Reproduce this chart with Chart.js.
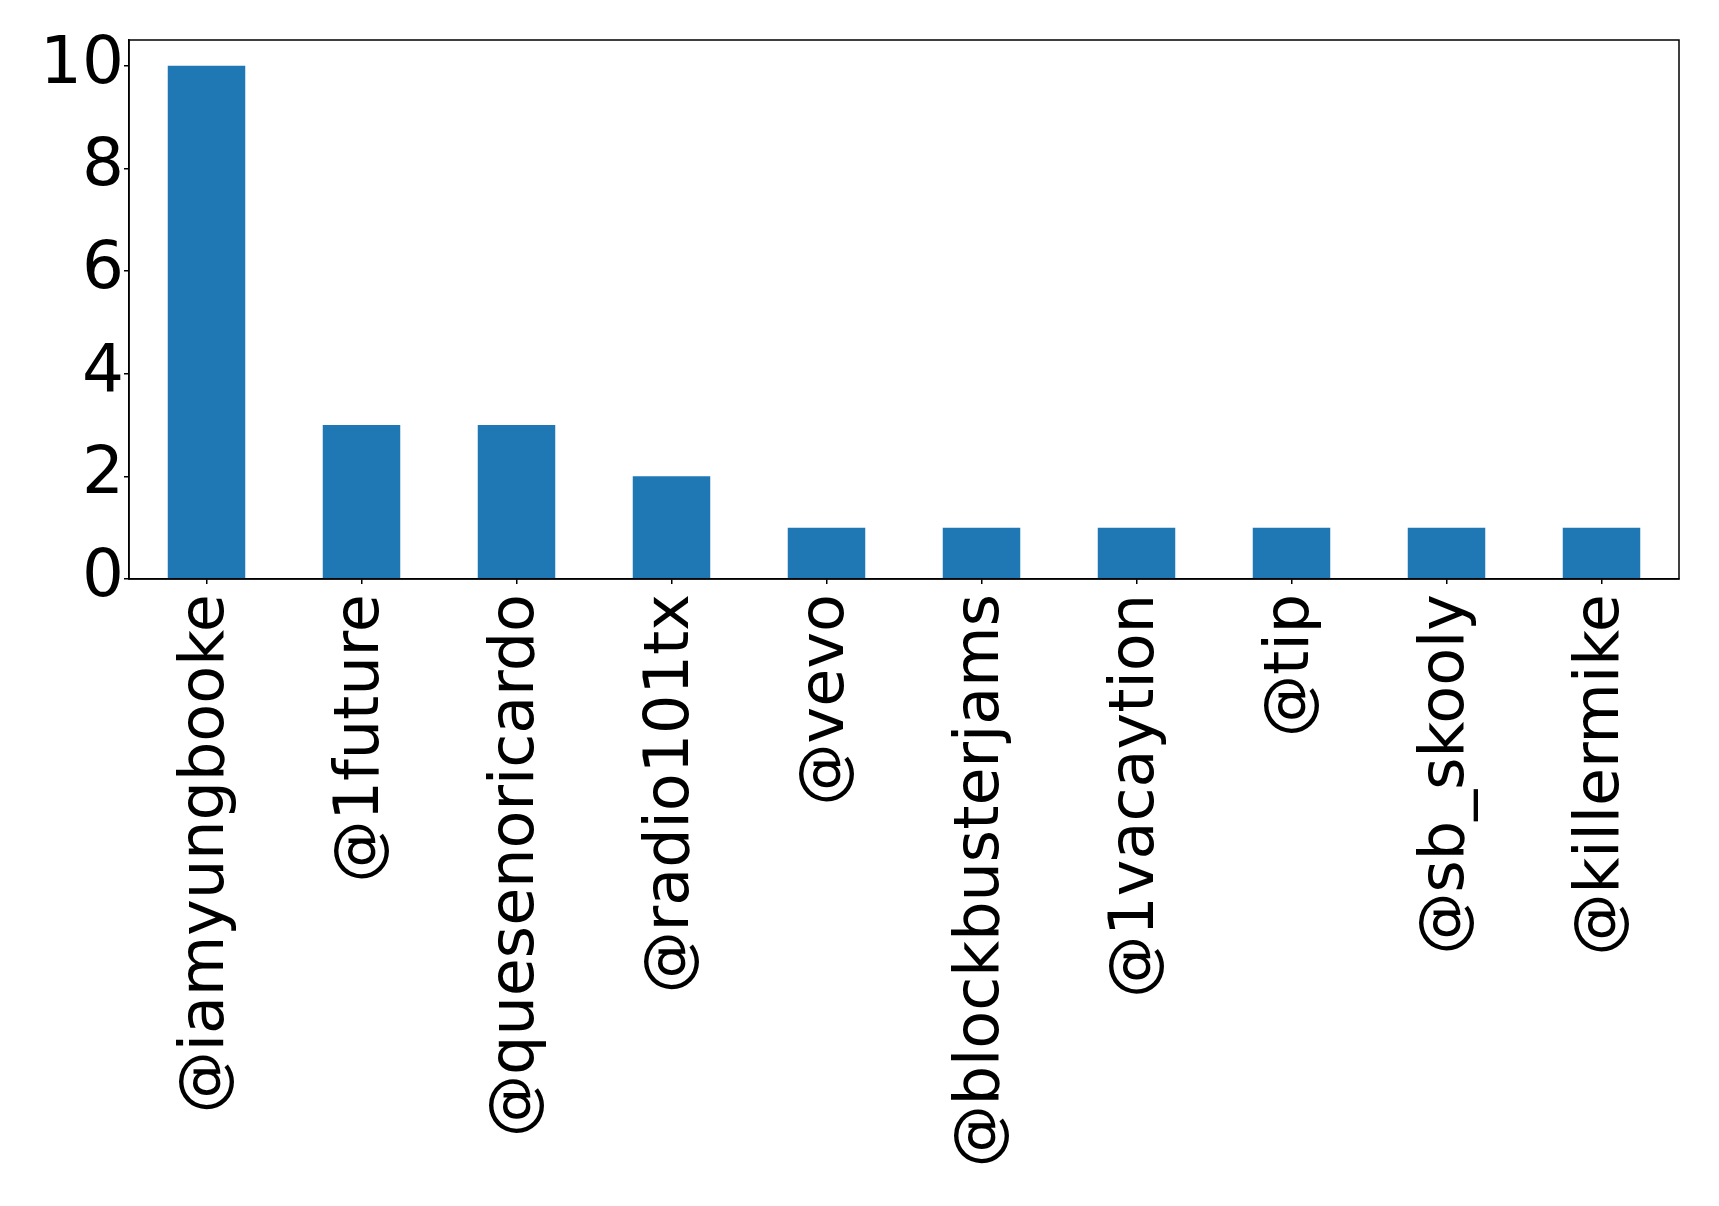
<!DOCTYPE html>
<html>
<head>
<meta charset="utf-8">
<style>
  html, body { margin: 0; padding: 0; background: #fff; }
  #wrap { width: 1719px; height: 1206px; }
</style>
<script src="https://cdn.jsdelivr.net/npm/chart.js@4/dist/chart.umd.min.js"></script>
</head>
<body>
<div id="wrap"><canvas id="myChart" width="1719" height="1206"></canvas></div>
<script>
// datos
const categories = ['@iamyungbooke', '@1future', '@quesenoricardo', '@radio101tx', '@vevo',
    '@blockbusterjams', '@1vacaytion', '@tip', '@sb_skooly', '@killermike'];
const counts = [10, 3, 3, 2, 1, 1, 1, 1, 1, 1];
const yTicks = [0, 2, 4, 6, 8, 10];

// marco completo alrededor del area (estilo matplotlib)
const frame = {
    id: 'frame',
    afterDraw(chart) {
        const a = chart.chartArea, c = chart.ctx;
        c.save();
        c.strokeStyle = '#000';
        c.lineWidth = 1.5;
        c.strokeRect(a.left, a.top, a.right - a.left, a.bottom - a.top);
        c.restore();
    }
};

document.addEventListener('DOMContentLoaded', () => {
    const ctx = document.getElementById('myChart').getContext('2d');

    new Chart(ctx, {
        type: 'bar',
        data: {
            labels: categories,
            datasets: [{
                data: counts,
                backgroundColor: '#1f77b4',
                barPercentage: 0.5,
                categoryPercentage: 1.0
            }]
        },
        options: {
            responsive: false,
            animation: false,
            layout: { padding: { top: 40, right: 40, left: 0, bottom: 0 } },
            plugins: { legend: { display: false }, tooltip: { enabled: false } },
            scales: {
                x: {
                    grid: { display: true, offset: false, drawOnChartArea: false, color: '#000', tickLength: 5, lineWidth: 1.5 },
                    border: { display: true, color: '#000', width: 1.5 },
                    ticks: {
                        color: '#000', maxRotation: 90, minRotation: 90, padding: 10,
                        font: { family: 'DejaVu Sans', size: 62 }
                    },
                    afterFit(scale) { scale.height = 627; }
                },
                y: {
                    min: 0, max: 10.5,
                    grid: { display: true, drawOnChartArea: false, color: '#000', tickLength: 5, lineWidth: 1.5 },
                    border: { display: true, color: '#000', width: 1.5 },
                    ticks: {
                        color: '#000', padding: 0,
                        font: { family: 'DejaVu Sans', size: 66, lineHeight: 1.0 }
                    },
                    afterBuildTicks(scale) { scale.ticks = yTicks.map(v => ({ value: v })); },
                    afterFit(scale) { scale.width = 129; }
                }
            }
        },
        plugins: [frame]
    });
});
</script>
</body>
</html>
